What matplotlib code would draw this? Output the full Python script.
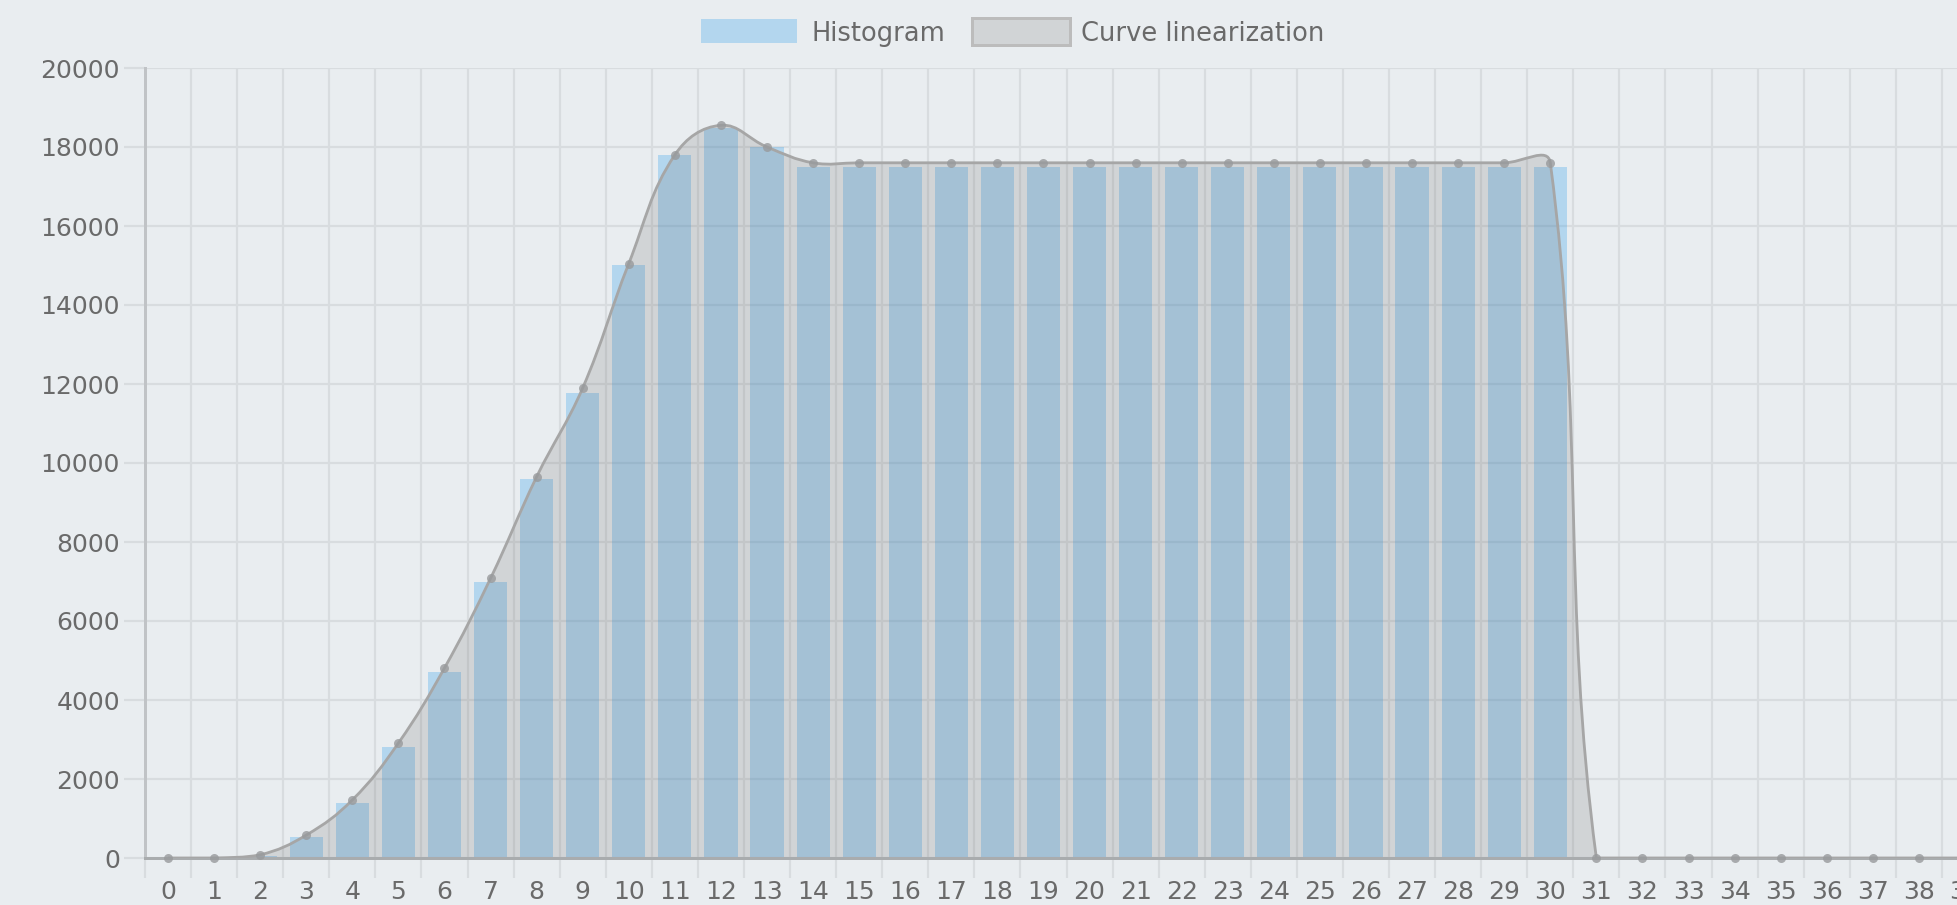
import numpy as np
import matplotlib.pyplot as plt
from matplotlib.path import Path
from matplotlib.patches import PathPatch, Rectangle

# Category labels on the x axis
labels = ["0", "1", "2", "3", "4", "5", "6", "7", "8", "9", "10", "11", "12", "13",
          "14", "15", "16", "17", "18", "19", "20", "21", "22", "23", "24", "25", "26",
          "27", "28", "29", "30", "31", "32", "33", "34", "35", "36", "37", "38", "39"]

# Histogram bar heights
histogram = [0, 0, 60, 530, 1390, 2810, 4710, 6980, 9600, 11780, 15000, 17800, 18480, 18000,
             17500, 17500, 17500, 17500, 17500, 17500, 17500, 17500, 17500, 17500, 17500,
             17500, 17500, 17500, 17500, 17500, 17500,
             0, 0, 0, 0, 0, 0, 0, 0, 0]

# Curve linearization points
curve = [0, 0, 80, 580, 1470, 2910, 4810, 7080, 9650, 11900, 15050, 17800, 18550, 18000,
         17600, 17600, 17600, 17600, 17600, 17600, 17600, 17600, 17600, 17600, 17600,
         17600, 17600, 17600, 17600, 17600, 17600,
         0, 0, 0, 0, 0, 0, 0, 0, 0]

# Y axis ticks
y_ticks = [0, 2000, 4000, 6000, 8000, 10000, 12000, 14000, 16000, 18000, 20000]

W, H = 1957, 905
BG = "#e9edf0"
GRID = "#d8dcdf"
TEXT = "#6a6a6a"
BAR_COLOR = (54 / 255, 162 / 255, 235 / 255, 0.3)
FILL_COLOR = (100 / 255, 100 / 255, 100 / 255, 0.18)
LINE_COLOR = "#a6a6a6"
PX = 0.72  # points per pixel at dpi 100


# Chart.js style spline: control points computed in pixel space
def spline_path(ax, xs, ys, tension=0.4):
    pts = ax.transData.transform(np.column_stack([xs, ys]))
    n = len(pts)
    c_prev = pts.copy()
    c_next = pts.copy()
    for i in range(n):
        prev = pts[i - 1] if i > 0 else pts[i]
        cur = pts[i]
        nxt = pts[i + 1] if i < n - 1 else pts[i]
        d01 = np.hypot(*(cur - prev))
        d12 = np.hypot(*(nxt - cur))
        tot = d01 + d12
        s01 = d01 / tot if tot else 0
        s12 = d12 / tot if tot else 0
        c_prev[i] = cur - tension * s01 * (nxt - prev)
        c_next[i] = cur + tension * s12 * (nxt - prev)

    # Cap control points to the chart area
    bb = ax.bbox
    for c in (c_prev, c_next):
        c[:, 0] = np.clip(c[:, 0], bb.x0, bb.x1)
        c[:, 1] = np.clip(c[:, 1], bb.y0, bb.y1)

    inv = ax.transData.inverted()
    pts, c_prev, c_next = inv.transform(pts), inv.transform(c_prev), inv.transform(c_next)

    verts = [pts[0]]
    codes = [Path.MOVETO]
    for i in range(n - 1):
        verts += [c_next[i], c_prev[i + 1], pts[i + 1]]
        codes += [Path.CURVE4] * 3
    return verts, codes


fig = plt.figure(figsize=(W / 100, H / 100), dpi=100, facecolor=BG)

# Axes spans past the right edge, like the cropped original
x0_px, x1_px = 145, 1988
y0_px, y1_px = 858, 68
ax = fig.add_axes([x0_px / W, 1 - y0_px / H, (x1_px - x0_px) / W, (y0_px - y1_px) / H])
ax.set_facecolor(BG)

x = np.arange(len(labels))
ax.set_xlim(-0.5, len(labels) - 0.5)
ax.set_ylim(0, 20000)

# Bars
ax.bar(x, histogram, width=0.72, color=BAR_COLOR, zorder=1)

# Curve with filled area down to zero
verts, codes = spline_path(ax, x, curve)
fill_verts = verts + [(x[-1], 0), (x[0], 0), (x[0], 0)]
fill_codes = codes + [Path.LINETO, Path.LINETO, Path.CLOSEPOLY]
ax.add_patch(PathPatch(Path(fill_verts, fill_codes), facecolor=FILL_COLOR, edgecolor="none", zorder=2))
ax.add_patch(PathPatch(Path(verts, codes), facecolor="none", edgecolor=LINE_COLOR,
                       linewidth=2.8 * PX, zorder=3))
ax.plot(x, curve, linestyle="none", marker="o", markersize=9 * PX, color="#989a9c",
        alpha=0.8, markeredgewidth=0, zorder=4, clip_on=False)

# Ticks, labels and grid
ax.set_xticks(x)
ax.set_xticklabels(labels)
ax.set_xticks(np.arange(-0.5, len(labels), 1.0), minor=True)
ax.set_yticks(y_ticks)
ax.set_yticklabels([str(v) for v in y_ticks])
ax.tick_params(axis="x", which="major", length=0, pad=22 * PX, labelsize=18, labelcolor=TEXT)
ax.tick_params(axis="x", which="minor", length=20 * PX, width=2.2 * PX, color=GRID)
ax.tick_params(axis="y", which="major", length=21 * PX, width=2.2 * PX, color=GRID,
               pad=4 * PX, labelsize=18, labelcolor=TEXT)
ax.grid(True, axis="x", which="minor", color=GRID, linewidth=2.2 * PX, zorder=0)
ax.grid(True, axis="y", which="major", color=GRID, linewidth=2.2 * PX, zorder=0)
ax.set_axisbelow(True)

for side in ("top", "right"):
    ax.spines[side].set_visible(False)
ax.spines["left"].set_color("#c0c3c6")
ax.spines["left"].set_linewidth(3 * PX)
ax.spines["bottom"].set_color("#a9acae")
ax.spines["bottom"].set_linewidth(3 * PX)

# Legend drawn by hand at the top
fig.add_artist(Rectangle((701 / W, 1 - 43 / H), 96 / W, 24 / H, transform=fig.transFigure,
                         facecolor=BAR_COLOR, edgecolor="none"))
fig.add_artist(Rectangle((972 / W, 1 - 45 / H), 98 / W, 27 / H, transform=fig.transFigure,
                         facecolor=FILL_COLOR, edgecolor="#bcbcbc", linewidth=3 * PX))
fig.text(811 / W, 1 - 41 / H, "Histogram", ha="left", va="baseline", fontsize=18.5,
         family="DejaVu Sans", color=TEXT)
fig.text(1081 / W, 1 - 41 / H, "Curve linearization", ha="left", va="baseline", fontsize=18.5,
         family="DejaVu Sans", color=TEXT)

fig.savefig("out.png", dpi=100, facecolor=BG)
